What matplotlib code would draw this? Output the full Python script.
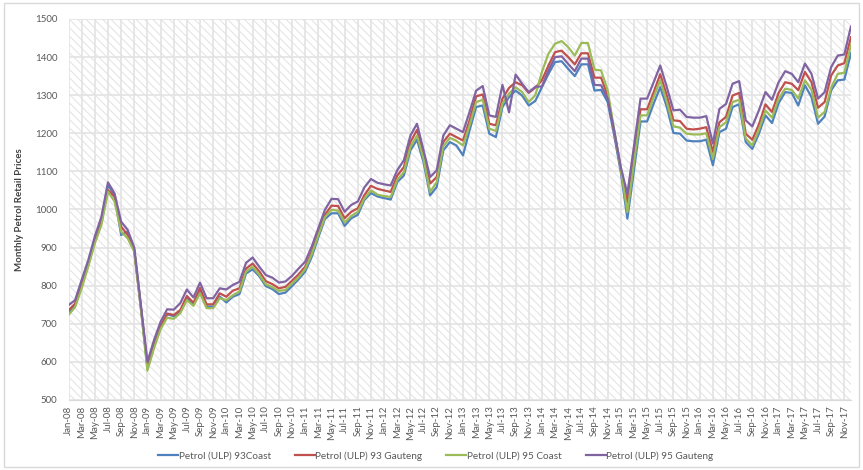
import matplotlib
import matplotlib.pyplot as plt
import pandas as pd
from matplotlib.patches import Rectangle

matplotlib.use("Agg")

plt.rcParams["font.family"] = ["Lato", "DejaVu Sans"]
plt.rcParams["hatch.linewidth"] = 0.7

months = pd.date_range("2008-01-01", periods=120, freq="MS").strftime("%b-%y").tolist()

ulp93_coast = [
    729, 748, 800, 855, 918, 966, 1064, 1038, 933, 942, 893, 742,
    584, 640, 689, 725, 720, 732, 766, 751, 785, 745, 745, 771,
    756, 771, 778, 832, 843, 825, 799, 791, 778, 782, 799, 817,
    837, 876, 927, 975, 990, 990, 957, 977, 986, 1025, 1043, 1034,
    1030, 1026, 1072, 1089, 1155, 1183, 1124, 1037, 1059, 1155, 1177, 1168,
    1142, 1208, 1269, 1273, 1199, 1190, 1269, 1295, 1312, 1299, 1273, 1285,
    1321, 1356, 1387, 1389, 1369, 1350, 1381, 1381, 1312, 1314, 1282, 1194,
    1098, 976, 1103, 1231, 1231, 1278, 1321, 1269, 1201, 1199, 1181, 1179,
    1179, 1183, 1116, 1203, 1212, 1269, 1276, 1177, 1159, 1199, 1247, 1227,
    1279, 1308, 1306, 1273, 1326, 1295, 1225, 1244, 1313, 1339, 1341, 1410,
]
ulp93_gauteng = [
    735, 753, 806, 858, 922, 970, 1051, 1034, 955, 933, 893, 745,
    592, 650, 694, 727, 723, 736, 773, 755, 794, 751, 751, 780,
    771, 787, 793, 845, 858, 838, 812, 804, 793, 797, 813, 830,
    850, 889, 939, 986, 1010, 1009, 977, 994, 1003, 1038, 1062, 1054,
    1050, 1046, 1089, 1111, 1177, 1209, 1142, 1068, 1085, 1177, 1199, 1190,
    1181, 1234, 1297, 1302, 1225, 1221, 1291, 1319, 1334, 1326, 1306, 1320,
    1339, 1378, 1413, 1417, 1400, 1381, 1410, 1410, 1346, 1346, 1299, 1203,
    1107, 1019, 1140, 1263, 1263, 1308, 1355, 1299, 1234, 1232, 1212, 1210,
    1212, 1216, 1151, 1229, 1243, 1299, 1306, 1199, 1183, 1223, 1276, 1256,
    1306, 1334, 1330, 1313, 1361, 1334, 1267, 1282, 1352, 1378, 1384, 1452,
]
ulp95_coast = [
    723, 744, 793, 850, 911, 959, 1047, 1021, 942, 924, 889, 740,
    577, 636, 686, 716, 713, 728, 762, 747, 780, 741, 741, 767,
    762, 775, 785, 837, 850, 829, 804, 796, 786, 789, 806, 822,
    844, 883, 933, 980, 999, 997, 966, 983, 994, 1029, 1050, 1039,
    1035, 1033, 1078, 1098, 1164, 1194, 1133, 1046, 1072, 1166, 1188, 1180,
    1168, 1221, 1282, 1288, 1212, 1206, 1278, 1304, 1321, 1308, 1282, 1300,
    1361, 1409, 1435, 1442, 1426, 1404, 1437, 1437, 1367, 1365, 1313, 1208,
    1105, 993, 1122, 1247, 1247, 1295, 1339, 1282, 1218, 1215, 1199, 1197,
    1197, 1200, 1133, 1216, 1229, 1282, 1288, 1186, 1168, 1209, 1260, 1241,
    1291, 1317, 1314, 1291, 1339, 1314, 1241, 1256, 1320, 1356, 1359, 1431,
]
ulp95_gauteng = [
    749, 762, 815, 867, 929, 981, 1071, 1042, 968, 946, 900, 750,
    600, 657, 705, 738, 737, 754, 790, 769, 808, 767, 767, 793,
    790, 802, 810, 860, 874, 850, 828, 821, 808, 811, 826, 845,
    863, 903, 951, 999, 1028, 1027, 994, 1012, 1021, 1058, 1080, 1070,
    1066, 1063, 1103, 1129, 1194, 1225, 1155, 1085, 1103, 1194, 1221, 1212,
    1203, 1256, 1312, 1324, 1247, 1243, 1327, 1255, 1354, 1330, 1308, 1322,
    1323, 1365, 1400, 1402, 1382, 1363, 1396, 1396, 1327, 1326, 1291, 1207,
    1111, 1041, 1166, 1291, 1291, 1334, 1378, 1321, 1260, 1262, 1243, 1241,
    1241, 1245, 1173, 1264, 1277, 1330, 1337, 1234, 1218, 1260, 1308, 1288,
    1334, 1363, 1356, 1334, 1383, 1356, 1291, 1308, 1374, 1404, 1407, 1480,
]

series = [
    ("Petrol (ULP) 93Coast", ulp93_coast, "#4F81BD"),
    ("Petrol (ULP) 93 Gauteng", ulp93_gauteng, "#C0504D"),
    ("Petrol (ULP) 95 Coast", ulp95_coast, "#9BBB59"),
    ("Petrol (ULP) 95 Gauteng", ulp95_gauteng, "#8064A2"),
]

fig = plt.figure(figsize=(8.63, 4.70), dpi=100)
ax = fig.add_axes([0.0794, 0.149, 0.9066, 0.8106])

# hatched plot area like the Excel pattern fill
ax.add_patch(Rectangle((0, 0), 1, 1, transform=ax.transAxes, facecolor="white",
                       edgecolor="#e2e2e2", hatch="\\\\\\\\", linewidth=0, zorder=0))

x = list(range(len(months)))
for label, values, color in series:
    ax.plot(x, values, color=color, linewidth=1.6, label=label, zorder=3)

ax.set_xlim(0, len(months) - 1)
ax.set_ylim(500, 1500)
ax.set_yticks(range(500, 1501, 100))
ax.set_xticks(x[::2])
ax.set_xticklabels(months[::2], rotation=90)
ax.tick_params(axis="both", length=0, labelsize=7, colors="#595959")
ax.tick_params(axis="x", pad=4)
ax.tick_params(axis="y", pad=8)

ax.grid(True, color="#e3e3e3", linewidth=1.2, zorder=1)
ax.set_axisbelow(True)
for side in ["top", "right", "left"]:
    ax.spines[side].set_visible(False)
ax.spines["bottom"].set_color("#d9d9d9")

ax.set_ylabel("Monthly Petrol Retail Prices", fontsize=7, color="#404040",
              fontweight="bold", labelpad=8)

fig.legend(loc="center", bbox_to_anchor=(0.505, 0.03), ncol=4, frameon=False,
           fontsize=7.2, handlelength=2.0, handletextpad=0.05, columnspacing=2.4,
           labelcolor="#595959")

fig.patches.append(Rectangle((0.005, 0.006), 0.99, 0.988, transform=fig.transFigure,
                             facecolor="none", edgecolor="#d9d9d9", linewidth=1.0))

fig.savefig("out.png", dpi=100)
